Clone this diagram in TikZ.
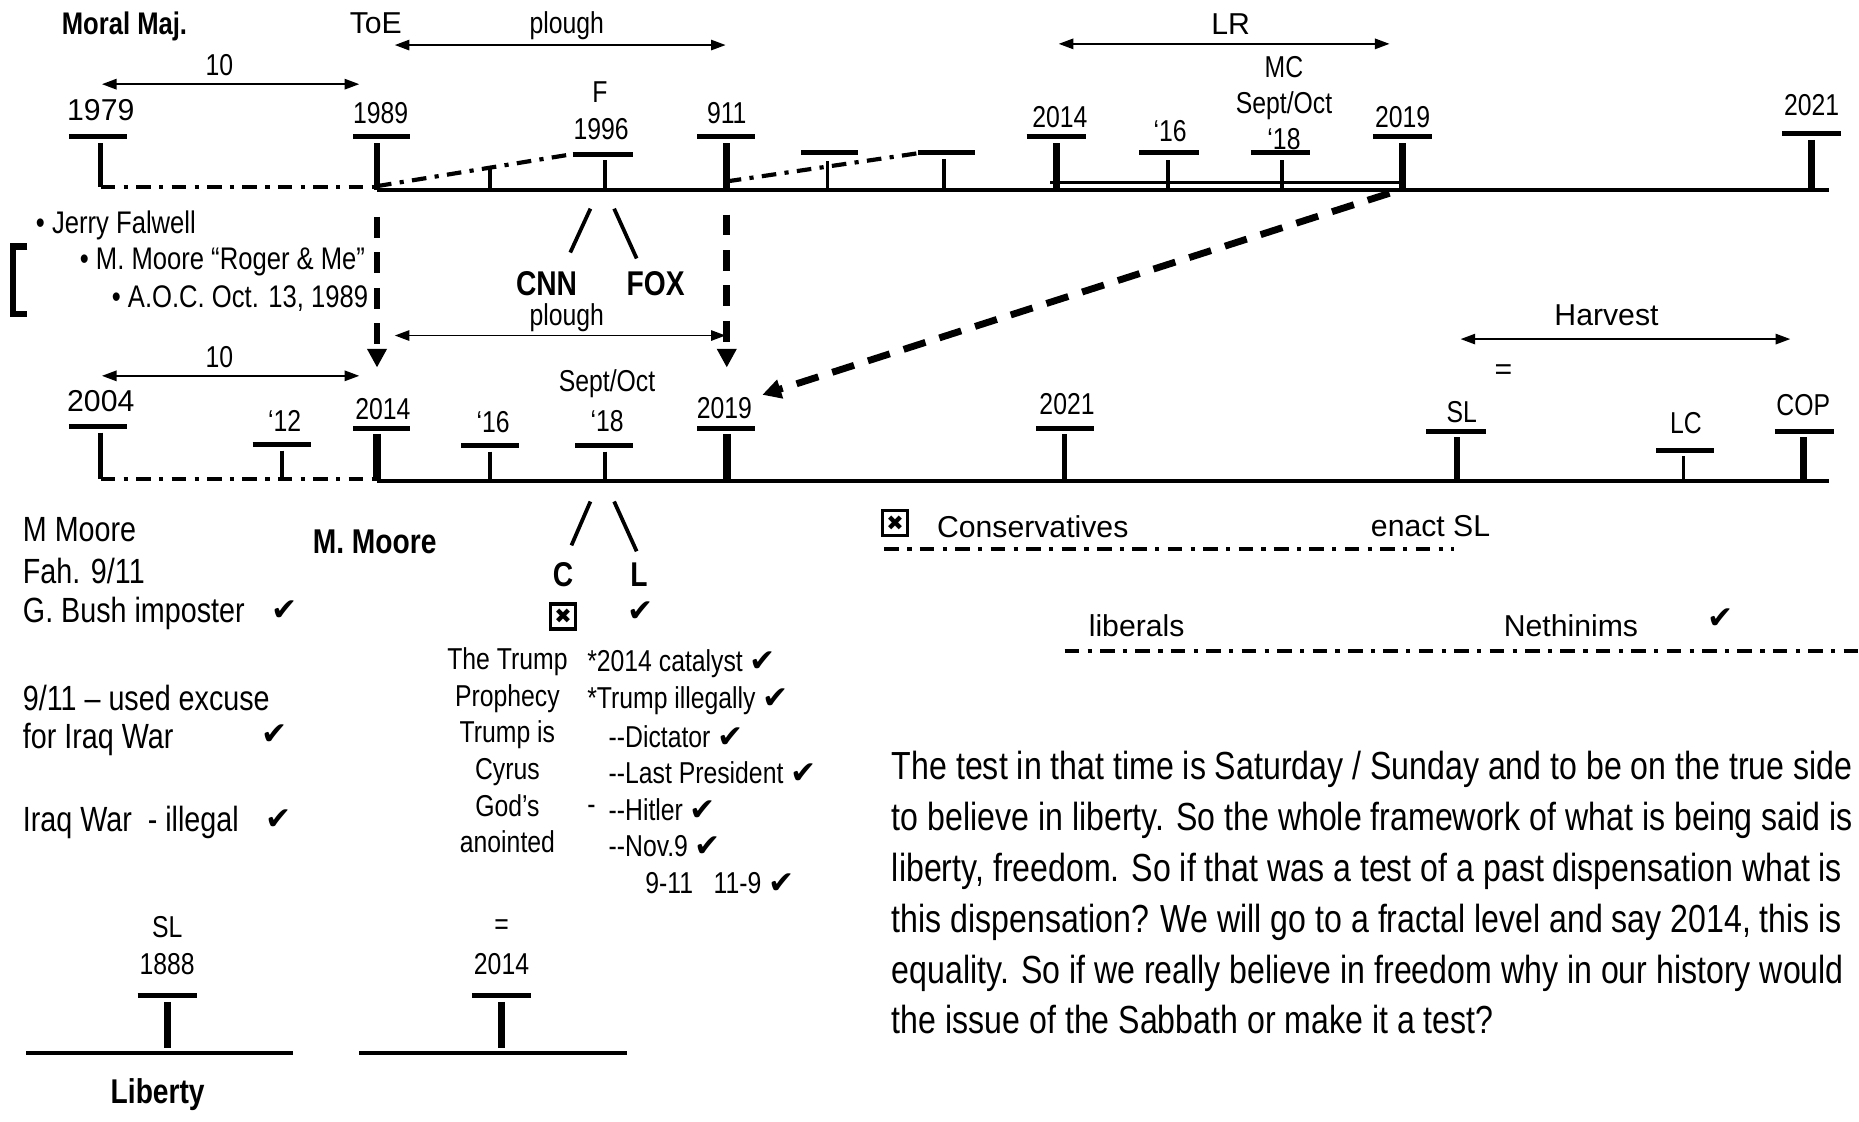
\documentclass[tikz,border=0pt]{standalone}
\usepackage{fontspec}
\setmainfont{Liberation Sans}[FakeStretch=0.82]
\newfontfamily\widefont{Liberation Sans}
\newfontfamily\symfont{DejaVu Sans}
\usetikzlibrary{arrows.meta}
\newcommand{\ok}{{\symfont\fontsize{15}{15}\selectfont ✔}}

\begin{document}
\begin{tikzpicture}[x = 0.02cm, y = -0.02cm,
	lbl/.style = {font = \fontsize{14.5}{17.5}\selectfont, inner sep = 0pt},
	wlbl/.style = {font = \widefont\fontsize{14.5}{17.5}\selectfont, inner sep = 0pt},
	blbl/.style = {font = \bfseries\fontsize{16.5}{19}\selectfont, inner sep = 0pt},
	lft/.style = {font = \fontsize{16.8}{19}\selectfont, inner sep = 0pt, anchor = west},
	naybox/.style = {draw, line width = 1.6pt, minimum size = 12pt, inner sep = 0pt, font = \symfont\fontsize{10}{10}\selectfont},
	axis/.style = {line width = 2pt},
	bar/.style = {line width = 2.4pt},
	pole/.style = {line width = 3.2pt},
	stem/.style = {line width = 1.8pt},
	dashdot/.style = {line width = 2pt, dash pattern = on 7pt off 4pt on 2pt off 4pt},
	span/.style = {line width = 0.8pt, {Triangle[length = 7pt, width = 5pt]}-{Triangle[length = 7pt, width = 5pt]}},
	jump/.style = {line width = 3.3pt, dash pattern = on 10pt off 7pt, -{Triangle[length = 9pt, width = 9pt]}}]
	\useasboundingbox (0,0) rectangle (1568,946);

	% upper timeline
	\node[blbl, font = \bfseries\fontsize{15}{18}\selectfont] (moral) at (105,22) {Moral Maj.};
	\node[wlbl] (toe) at (317,20) {ToE};
	\node[lbl] (plough1) at (478,22) {plough};
	\coordinate (pl1a) at (333,38); \coordinate (pl1b) at (612,38);
	\draw[span] (pl1a) -- (pl1b);
	\node[wlbl] (lr) at (1038,20) {LR};
	\coordinate (lra) at (893,37); \coordinate (lrb) at (1172,37);
	\draw[span] (lra) -- (lrb);
	\node[lbl] (ten1) at (185,55) {10};
	\coordinate (ten1a) at (86,71); \coordinate (ten1b) at (303,71);
	\draw[span] (ten1a) -- (ten1b);

	\node[wlbl] (y1979) at (85,93) {1979};
	\node[lbl] (y1989) at (321,95) {1989};
	\node[lbl] (fF) at (506,78) {F};
	\node[lbl] (y1996) at (507,109) {1996};
	\node[lbl] (y911) at (613,95) {911};
	\node[lbl] (y2014a) at (894,99) {2014};
	\node[lbl] (y16a) at (987,111) {‘16};
	\node[lbl, align = center] (mc) at (1083,87) {MC\\Sept/Oct\\‘18};
	\node[lbl] (y2019a) at (1183,99) {2019};
	\node[lbl] (y2021a) at (1528,89) {2021};

	\draw[axis] (318,160) -- (1543,160);
	\draw[stem] (886,154) -- (1183,154);
	\draw[bar] (58,115) -- (107,115);
	\draw[stem, line width = 2.2pt] (85,121) -- (85,158);
	\draw[dashdot] (85,158) -- (318,158);
	\draw[bar] (298,115) -- (346,115);
	\draw[pole] (318,121) -- (318,160);
	\draw[dashdot] (318,157) -- (483,130);
	\draw[stem] (413,142) -- (413,160);
	\draw[bar] (483,130) -- (534,130);
	\draw[stem] (510,135) -- (510,160);
	\draw[bar] (588,115) -- (637,115);
	\draw[pole] (613,121) -- (613,160);
	\draw[dashdot] (613,153) -- (776,129);
	\draw[bar] (676,129) -- (724,129);
	\draw[stem] (698,136) -- (698,160);
	\draw[bar] (774,129) -- (822,129);
	\draw[stem] (796,134) -- (796,160);
	\draw[bar] (866,115) -- (916,115);
	\draw[pole] (891,121) -- (891,160);
	\draw[bar] (961,129) -- (1011,129);
	\draw[stem] (985,135) -- (985,160);
	\draw[bar] (1055,129) -- (1105,129);
	\draw[stem] (1081,135) -- (1081,160);
	\draw[bar] (1158,115) -- (1208,115);
	\draw[pole] (1183,121) -- (1183,160);
	\draw[bar] (1503,113) -- (1553,113);
	\draw[pole] (1528,118) -- (1528,160);

	% notes under the upper timeline
	\node[lbl, anchor = west, font = \fontsize{15}{17.5}\selectfont] (falwell) at (30,190) {• Jerry Falwell};
	\node[lbl, anchor = west, font = \fontsize{15}{17.5}\selectfont] (roger) at (67,221) {• M. Moore “Roger \& Me”};
	\node[lbl, anchor = west, font = \fontsize{15}{17.5}\selectfont] (aoc) at (94,252) {• A.O.C. Oct. 13, 1989};
	\draw[line width = 3pt] (23,208) -- (11,208) -- (11,265) -- (23,265);
	\draw[stem] (498,176) -- (481,213);
	\draw[stem] (518,176) -- (537,218);
	\node[blbl] (cnn) at (461,239) {CNN};
	\node[blbl] (fox) at (553,239) {FOX};
	\node[lbl] (plough2) at (478,268) {plough};
	\coordinate (pl2a) at (333,283); \coordinate (pl2b) at (612,283);
	\draw[span] (pl2a) -- (pl2b);

	\coordinate (j1a) at (318,183); \coordinate (j1b) at (318,310);
	\coordinate (j2a) at (613,181); \coordinate (j2b) at (613,310);
	\coordinate (j3a) at (1172,163); \coordinate (j3b) at (643,333);
	\draw[jump] (j1a) -- (j1b);
	\draw[jump] (j2a) -- (j2b);
	\draw[jump, dash pattern = on 11pt off 7pt] (j3a) -- (j3b);

	% lower timeline
	\node[lbl] (ten2) at (185,301) {10};
	\coordinate (ten2a) at (86,317); \coordinate (ten2b) at (303,317);
	\draw[span] (ten2a) -- (ten2b);
	\node[wlbl] (harvest) at (1355,266) {Harvest};
	\coordinate (hva) at (1232,286); \coordinate (hvb) at (1510,286);
	\draw[span] (hva) -- (hvb);
	\node[wlbl] (eq) at (1268,314) {=};

	\node[wlbl] (y2004) at (85,338) {2004};
	\node[lbl] (y12) at (240,355) {‘12};
	\node[lbl] (y2014b) at (323,345) {2014};
	\node[lbl] (y16b) at (416,356) {‘16};
	\node[lbl] (sept) at (512,324) {Sept/Oct};
	\node[lbl] (y18b) at (512,355) {‘18};
	\node[lbl] (y2019b) at (611,344) {2019};
	\node[lbl] (y2021b) at (900,341) {2021};
	\node[lbl] (sl) at (1233,348) {SL};
	\node[lbl] (lc) at (1422,357) {LC};
	\node[lbl] (cop) at (1521,342) {COP};

	\draw[axis] (318,406) -- (1543,406);
	\draw[bar] (58,360) -- (107,360);
	\draw[stem, line width = 2.2pt] (85,365) -- (85,404);
	\draw[dashdot] (85,404) -- (318,404);
	\draw[bar] (213,375) -- (262,375);
	\draw[stem] (238,380) -- (238,404);
	\draw[bar] (298,361) -- (346,361);
	\draw[pole, line width = 3.6pt] (318,366) -- (318,406);
	\draw[bar] (389,376) -- (438,376);
	\draw[stem] (413,381) -- (413,406);
	\draw[bar] (485,376) -- (534,376);
	\draw[stem] (510,381) -- (510,406);
	\draw[bar] (588,361) -- (637,361);
	\draw[pole, line width = 3.6pt] (613,366) -- (613,406);
	\draw[bar] (874,361) -- (923,361);
	\draw[pole, line width = 2.6pt] (898,366) -- (898,406);
	\draw[bar] (1203,364) -- (1253,364);
	\draw[pole] (1229,369) -- (1229,406);
	\draw[bar] (1397,380) -- (1446,380);
	\draw[stem] (1420,385) -- (1420,406);
	\draw[bar] (1497,364) -- (1547,364);
	\draw[pole] (1521,369) -- (1521,406);

	% notes under the lower timeline
	\node[lft] (moore1) at (19,447) {M Moore};
	\node[lft] (fah) at (19,482) {Fah. 9/11};
	\node[lft] (bush) at (19,517) {G. Bush imposter};
	\node (okbush) at (240,515) {\ok};
	\node[lft] (excuse) at (19,589) {9/11 – used excuse};
	\node[lft] (iraq) at (19,624) {for Iraq War};
	\node (okiraq) at (232,620) {\ok};
	\node[lft] (illegal) at (19,694) {Iraq War\ \ - illegal};
	\node (okill) at (235,691) {\ok};
	\node[blbl] (moore2) at (316,457) {M. Moore};

	\draw[stem] (498,423) -- (482,460);
	\draw[stem] (518,423) -- (537,465);
	\node[blbl] (cC) at (475,485) {C};
	\node[blbl] (cL) at (539,485) {L};
	\node[naybox] (nayC) at (475,520) {✖};
	\node (okL) at (540,516) {\ok};
	\node[lbl, align = center, font = \fontsize{14.5}{17.6}\selectfont] (trump) at (428,633) {The Trump\\Prophecy\\Trump is\\Cyrus\\God’s\\anointed};
	\node[lbl, anchor = west] (cat) at (495,560) {*2014 catalyst \ok};
	\node[lbl, anchor = west] (illg) at (495,591) {*Trump illegally \ok};
	\node[lbl, anchor = west] (dict) at (513,621) {-{}-Dictator \ok};
	\node[lbl, anchor = west] (last) at (513,652) {-{}-Last President \ok};
	\node[lbl, anchor = west] (dash) at (495,683) {-};
	\node[lbl, anchor = west] (hitler) at (513,683) {-{}-Hitler \ok};
	\node[lbl, anchor = west] (nov) at (513,714) {-{}-Nov.9 \ok};
	\node[lbl, anchor = west] (nine) at (544,745) {9-11\ \ \ 11-9 \ok};

	\node[naybox] (nayCons) at (755,441) {✖};
	\node[wlbl, anchor = west] (cons) at (790,444) {Conservatives};
	\node[wlbl, anchor = west] (enact) at (1156,444) {enact SL};
	\draw[dashdot] (746,463) -- (1226,463);
	\node[wlbl, anchor = west] (lib) at (918,528) {liberals};
	\node[wlbl, anchor = west] (neth) at (1268,528) {Nethinims};
	\node (okneth) at (1451,522) {\ok};
	\draw[dashdot] (898,549) -- (1568,549);

	\node[anchor = base west, align = left, inner sep = 0pt, font = \fontsize{18.8}{24.4}\selectfont] (quote) at (752,872) {The test in that time is Saturday / Sunday and to be on the true side\\to believe in liberty. So the whole framework of what is being said is\\liberty, freedom. So if that was a test of a past dispensation what is\\this dispensation? We will go to a fractal level and say 2014, this is\\equality. So if we really believe in freedom why in our history would\\the issue of the Sabbath or make it a test?};

	% small timelines
	\node[lbl] (sl2) at (141,782) {SL};
	\node[lbl] (y1888) at (141,813) {1888};
	\draw[bar] (116,840) -- (166,840);
	\draw[pole] (141,845) -- (141,884);
	\draw[axis] (22,888) -- (247,888);
	\node[blbl] (liberty) at (133,923) {Liberty};
	\node[lbl] (eq2) at (423,782) {=};
	\node[lbl] (y2014c) at (423,813) {2014};
	\draw[bar] (398,840) -- (448,840);
	\draw[pole] (423,845) -- (423,884);
	\draw[axis] (303,888) -- (529,888);
\end{tikzpicture}
\end{document}
